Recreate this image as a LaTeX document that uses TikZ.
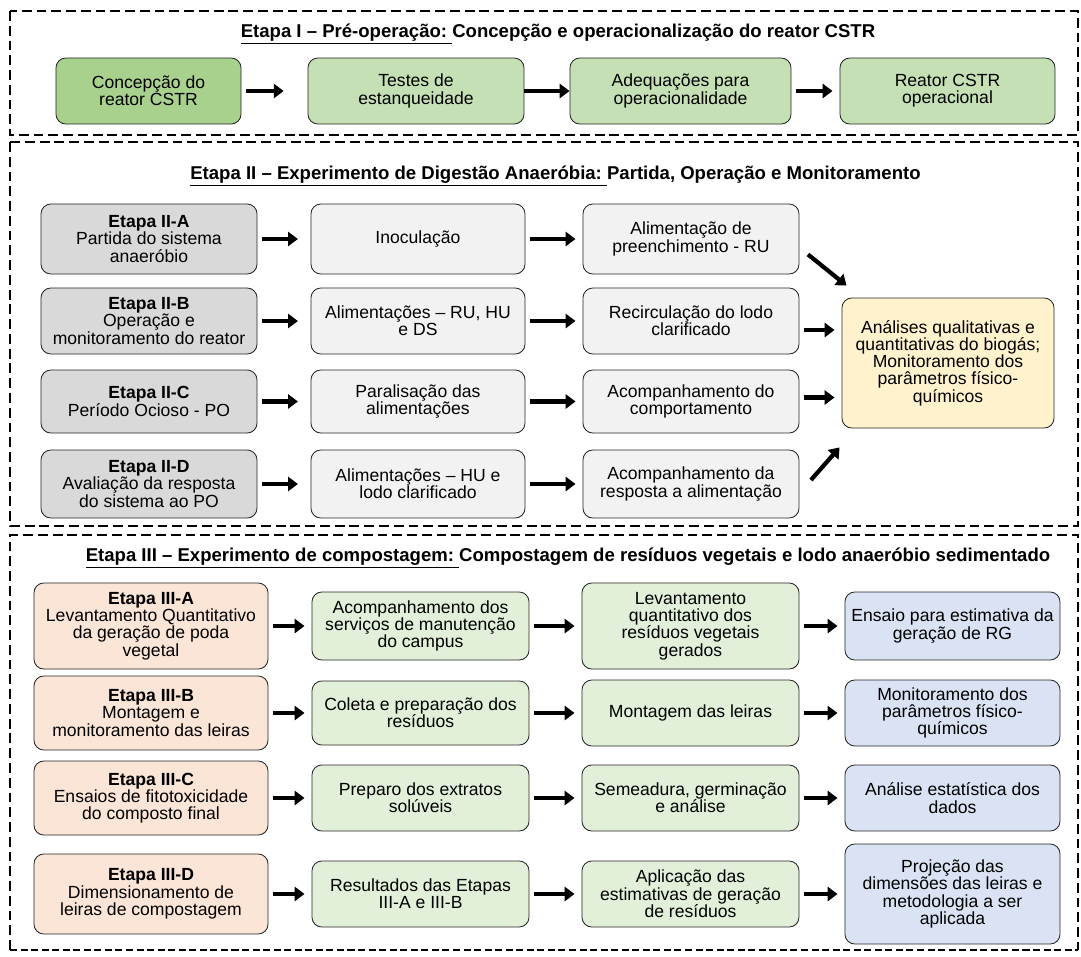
\documentclass[tikz,border=0pt]{standalone}
\usepackage{fontspec}
\setmainfont{Liberation Sans}
\usetikzlibrary{arrows.meta}
\definecolor{verdeesc}{HTML}{A9D18E}
\definecolor{verdeclaro}{HTML}{C5E0B4}
\definecolor{cinzaesc}{HTML}{D9D9D9}
\definecolor{cinzaclaro}{HTML}{F2F2F2}
\definecolor{amarelo}{HTML}{FFF2CC}
\definecolor{laranja}{HTML}{FBE5D6}
\definecolor{verdepal}{HTML}{E2F0D9}
\definecolor{azul}{HTML}{DAE3F3}

\begin{document}
\begin{tikzpicture}[x=0.025cm,y=-0.025cm,
    box/.style={draw=black!85,line width=0.6pt,rounded corners=7pt,align=center,inner sep=1pt,font=\fontsize{12.5}{12.3}\selectfont},
    moldura/.style={line width=2pt,dash pattern=on 7pt off 3.5pt},
    titulo/.style={font=\bfseries\fontsize{13.2}{15}\selectfont},
    arr/.style={->,line width=3pt,shorten <=3pt,shorten >=5pt},
    >={Triangle[length=7pt,width=10pt]}
]
\useasboundingbox (0,0) rectangle (1081,956);

% molduras das etapas
\draw[moldura] (10,11) rectangle (1078,135);
\draw[moldura] (10,142) rectangle (1078,526);
\draw[moldura] (10,950) -- (10,535) -- (1078,535) -- (1078,950);
\draw[line width=1pt,dash pattern=on 5pt off 2.5pt] (10,950) -- (1078,950);

% Etapa I
\node[titulo] (tit1) at (558,34) {\underline{Etapa I – Pré-operação:\ }Concepção e operacionalização do reator CSTR};
\node[box,fill=verdeesc,minimum width=4.625cm,minimum height=1.65cm] (conc) at (148.5,91) {Concepção do\\reator CSTR};
\node[box,fill=verdeclaro,minimum width=5.4cm,minimum height=1.65cm] (test) at (416,91) {Testes de\\estanqueidade};
\node[box,fill=verdeclaro,minimum width=5.525cm,minimum height=1.65cm] (adeq) at (680.5,91) {Adequações para\\operacionalidade};
\node[box,fill=verdeclaro,minimum width=5.375cm,minimum height=1.65cm] (oper) at (947.5,91) {Reator CSTR\\operacional};

\draw[arr,shorten >=17pt] (conc) -- (test);
\draw[arr,shorten <=0pt,shorten >=0pt] (test) -- (adeq);
\draw[arr] (adeq) -- (oper);

% Etapa II
\node[titulo] (tit2) at (555.5,176) {\underline{Etapa II – Experimento de Digestão Anaeróbia:\ }Partida, Operação e Monitoramento};
\node[box,fill=cinzaesc,minimum width=5.4cm,minimum height=1.75cm] (etA) at (149,239) {\textbf{Etapa II-A}\\Partida do sistema\\anaeróbio};
\node[box,fill=cinzaclaro,minimum width=5.35cm,minimum height=1.75cm] (inoc) at (418,239) {Inoculação};
\node[box,fill=cinzaclaro,minimum width=5.4cm,minimum height=1.75cm] (preen) at (691,239) {Alimentação de\\preenchimento - RU};

\node[box,fill=cinzaesc,minimum width=5.4cm,minimum height=1.65cm] (etB) at (149,321) {\textbf{Etapa II-B}\\Operação e\\monitoramento do reator};
\node[box,fill=cinzaclaro,minimum width=5.35cm,minimum height=1.65cm] (alimB) at (418,321) {Alimentações – RU, HU\\e DS};
\node[box,fill=cinzaclaro,minimum width=5.4cm,minimum height=1.65cm] (recirc) at (691,321) {Recirculação do lodo\\clarificado};

\node[box,fill=cinzaesc,minimum width=5.4cm,minimum height=1.575cm] (etC) at (149,401.5) {\textbf{Etapa II-C}\\Período Ocioso - PO};
\node[box,fill=cinzaclaro,minimum width=5.35cm,minimum height=1.575cm] (paral) at (418,401.5) {Paralisação das\\alimentações};
\node[box,fill=cinzaclaro,minimum width=5.4cm,minimum height=1.575cm] (comport) at (691,401.5) {Acompanhamento do\\comportamento};

\node[box,fill=cinzaesc,minimum width=5.4cm,minimum height=1.7cm] (etD) at (149,484) {\textbf{Etapa II-D}\\Avaliação da resposta\\do sistema ao PO};
\node[box,fill=cinzaclaro,minimum width=5.35cm,minimum height=1.7cm] (alimD) at (418,484) {Alimentações – HU e\\lodo clarificado};
\node[box,fill=cinzaclaro,minimum width=5.4cm,minimum height=1.7cm] (resp) at (691,484) {Acompanhamento da\\resposta a alimentação};

\node[box,fill=amarelo,minimum width=5.3cm,minimum height=3.25cm] (anal) at (948,363) {Análises qualitativas e\\quantitativas do biogás;\\Monitoramento dos\\parâmetros físico-\\químicos};

\draw[arr,shorten >=9pt] (etA) -- (inoc);
\draw[arr] (inoc) -- (preen);
\draw[arr,shorten >=9pt] (etB) -- (alimB);
\draw[arr] (alimB) -- (recirc);
\draw[arr,shorten >=9pt] (etC) -- (paral);
\draw[arr] (paral) -- (comport);
\draw[arr,shorten >=9pt] (etD) -- (alimD);
\draw[arr] (alimD) -- (resp);

\coordinate (saiB) at ([shift={(0,9)}]recirc.east);
\coordinate (saiC) at ([shift={(0,-4)}]comport.east);
\draw[arr] (saiB) -- (saiB -| anal.west);
\draw[arr] (saiC) -- (saiC -| anal.west);
\draw[arr,shorten <=0pt,shorten >=0pt] ([shift={(8.5,-20)}]preen.south east) -- ([shift={(5,-12)}]anal.north west);
\draw[arr,shorten <=0pt,shorten >=0pt] ([shift={(11.5,-4)}]resp.east) -- ([shift={(-2,19)}]anal.south west);

% Etapa III
\node[titulo] (tit3) at (568,558) {\underline{Etapa III – Experimento de compostagem:\ }Compostagem de resíduos vegetais e lodo anaeróbio sedimentado};
\node[box,fill=laranja,minimum width=5.85cm,minimum height=2.15cm] (etIIIA) at (151,626) {\textbf{Etapa III-A}\\Levantamento Quantitativo\\da geração de poda\\vegetal};
\node[box,fill=verdepal,minimum width=5.425cm,minimum height=1.7cm] (acomp) at (420.5,626) {Acompanhamento dos\\serviços de manutenção\\do campus};
\node[box,fill=verdepal,minimum width=5.425cm,minimum height=2.15cm] (levant) at (690.5,626) {Levantamento\\quantitativo dos\\resíduos vegetais\\gerados};
\node[box,fill=azul,minimum width=5.375cm,minimum height=1.7cm] (ensaio) at (952.5,626) {Ensaio para estimativa da\\geração de RG};

\node[box,fill=laranja,minimum width=5.85cm,minimum height=1.85cm] (etIIIB) at (151,713) {\textbf{Etapa III-B}\\Montagem e\\monitoramento das leiras};
\node[box,fill=verdepal,minimum width=5.425cm,minimum height=1.6cm] (coleta) at (420.5,713) {Coleta e preparação dos\\resíduos};
\node[box,fill=verdepal,minimum width=5.425cm,minimum height=1.65cm] (montag) at (690.5,713) {Montagem das leiras};
\node[box,fill=azul,minimum width=5.375cm,minimum height=1.65cm] (monit) at (952.5,713) {Monitoramento dos\\parâmetros físico-\\químicos};

\node[box,fill=laranja,minimum width=5.85cm,minimum height=1.85cm] (etIIIC) at (151,798) {\textbf{Etapa III-C}\\Ensaios de fitotoxicidade\\do composto final};
\node[box,fill=verdepal,minimum width=5.425cm,minimum height=1.65cm] (preparo) at (420.5,798) {Preparo dos extratos\\solúveis};
\node[box,fill=verdepal,minimum width=5.425cm,minimum height=1.65cm] (semead) at (690.5,798) {Semeadura, germinação\\e análise};
\node[box,fill=azul,minimum width=5.375cm,minimum height=1.65cm] (estat) at (952.5,798) {Análise estatística dos\\dados};

\node[box,fill=laranja,minimum width=5.85cm,minimum height=2cm] (etIIID) at (151,894) {\textbf{Etapa III-D}\\Dimensionamento de\\leiras de compostagem};
\node[box,fill=verdepal,minimum width=5.425cm,minimum height=1.65cm] (result) at (420.5,894) {Resultados das Etapas\\III-A e III-B};
\node[box,fill=verdepal,minimum width=5.425cm,minimum height=1.65cm] (aplic) at (690.5,894) {Aplicação das\\estimativas de geração\\de resíduos};
\node[box,fill=azul,minimum width=5.375cm,minimum height=2.5cm] (proj) at (952.5,894) {Projeção das\\dimensões das leiras e\\metodologia a ser\\aplicada};

\draw[arr] (etIIIA) -- (acomp);
\draw[arr] (acomp) -- (levant);
\draw[arr] (levant) -- (ensaio);
\draw[arr] (etIIIB) -- (coleta);
\draw[arr] (coleta) -- (montag);
\draw[arr] (montag) -- (monit);
\draw[arr] (etIIIC) -- (preparo);
\draw[arr] (preparo) -- (semead);
\draw[arr] (semead) -- (estat);
\draw[arr] (etIIID) -- (result);
\draw[arr] (result) -- (aplic);
\draw[arr] (aplic) -- (proj);
\end{tikzpicture}
\end{document}
